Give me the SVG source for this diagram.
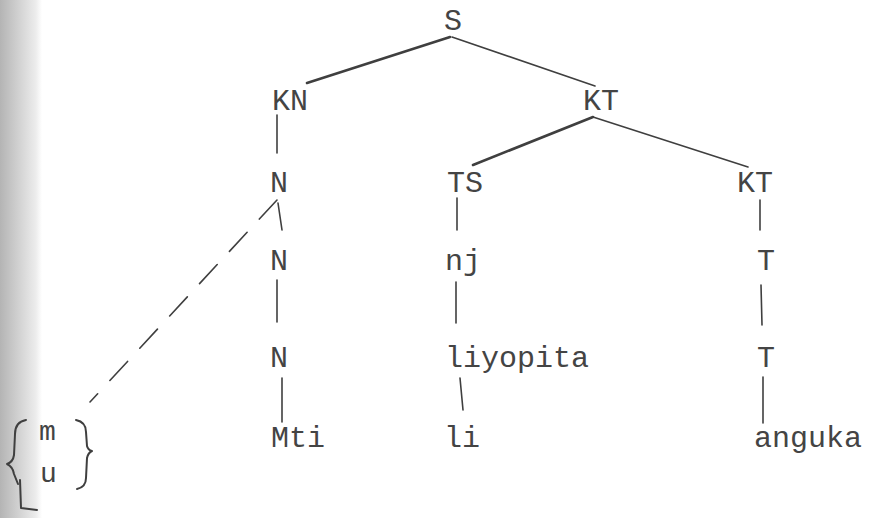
<svg xmlns="http://www.w3.org/2000/svg" width="872" height="518" viewBox="0 0 872 518">
<defs>
<linearGradient id="edge" x1="0" y1="0" x2="1" y2="0">
<stop offset="0" stop-color="#b4b4b4"/>
<stop offset="0.85" stop-color="#ececec"/>
<stop offset="1" stop-color="#ffffff"/>
</linearGradient>
</defs>
<style>
.t{font-family:"Liberation Mono","Courier New",monospace;font-size:30px;fill:#444444}
.e{stroke:#3f3f3f;stroke-width:1.6;fill:none;stroke-linecap:round}
.thick{stroke-width:2.6}
.dash{stroke-dasharray:26 18}
.br{stroke:#3f3f3f;stroke-width:2;fill:none;stroke-linecap:round;stroke-linejoin:round}
</style>
<rect width="872" height="518" fill="#ffffff"/>
<rect x="0" y="0" width="42" height="518" fill="url(#edge)"/>
<g id="connectors">
<line class="e thick" x1="450" y1="37" x2="307" y2="83"/>
<line class="e" x1="452" y1="37" x2="595" y2="86"/>
<line class="e" x1="277" y1="115" x2="277" y2="153"/>
<line class="e thick" x1="593" y1="117" x2="473" y2="165"/>
<line class="e" x1="593" y1="117" x2="748" y2="167"/>
<line class="e" x1="278" y1="203" x2="282" y2="230"/>
<line class="e dash" x1="277" y1="200" x2="90" y2="402"/>
<line class="e" x1="457" y1="198" x2="457" y2="230"/>
<line class="e" x1="760" y1="200" x2="760" y2="230"/>
<line class="e" x1="277" y1="280" x2="277" y2="322"/>
<line class="e" x1="456" y1="282" x2="456" y2="323"/>
<line class="e" x1="761" y1="285" x2="762" y2="325"/>
<line class="e" x1="282" y1="378" x2="282" y2="422"/>
<line class="e" x1="460" y1="378" x2="463" y2="410"/>
<line class="e" x1="763" y1="377" x2="763" y2="423"/>
</g>
<g id="n-S"><text class="t" x="444" y="30">S</text></g>
<g id="n-KN"><text class="t" x="272" y="110">KN</text></g>
<g id="n-KT"><text class="t" x="583" y="110">KT</text></g>
<g id="n-N1"><text class="t" x="270" y="192">N</text></g>
<g id="n-TS"><text class="t" x="447" y="192">TS</text></g>
<g id="n-KT2"><text class="t" x="737" y="192">KT</text></g>
<g id="n-N2"><text class="t" x="270" y="270">N</text></g>
<g id="n-nj"><text class="t" x="445" y="270">nj</text></g>
<g id="n-T1"><text class="t" x="757" y="270">T</text></g>
<g id="n-N3"><text class="t" x="270" y="367">N</text></g>
<g id="n-liyopita"><text class="t" x="445" y="367">liyopita</text></g>
<g id="n-T2"><text class="t" x="757" y="367">T</text></g>
<g id="n-Mti"><text class="t" x="271" y="447">Mti</text></g>
<g id="n-li"><text class="t" x="444" y="447">li</text></g>
<g id="n-anguka"><text class="t" x="754" y="447">anguka</text></g>
<g id="n-mu">
<path class="br" d="M26,420 Q15,422 15,434 L14,455 Q13,462 7,464 Q13,467 14,474 L18,484"/>
<path class="br" d="M20,480 L21,508 L37,510"/>
<path class="br" d="M76,420 Q86,422 86,432 L87,446 Q88,450 92,451 Q88,453 87,458 L86,478 Q86,487 77,489"/>
<text class="t" x="39" y="440" style="font-size:28px">m</text>
<text class="t" x="40" y="482" style="font-size:28px">u</text>
</g>
</svg>
